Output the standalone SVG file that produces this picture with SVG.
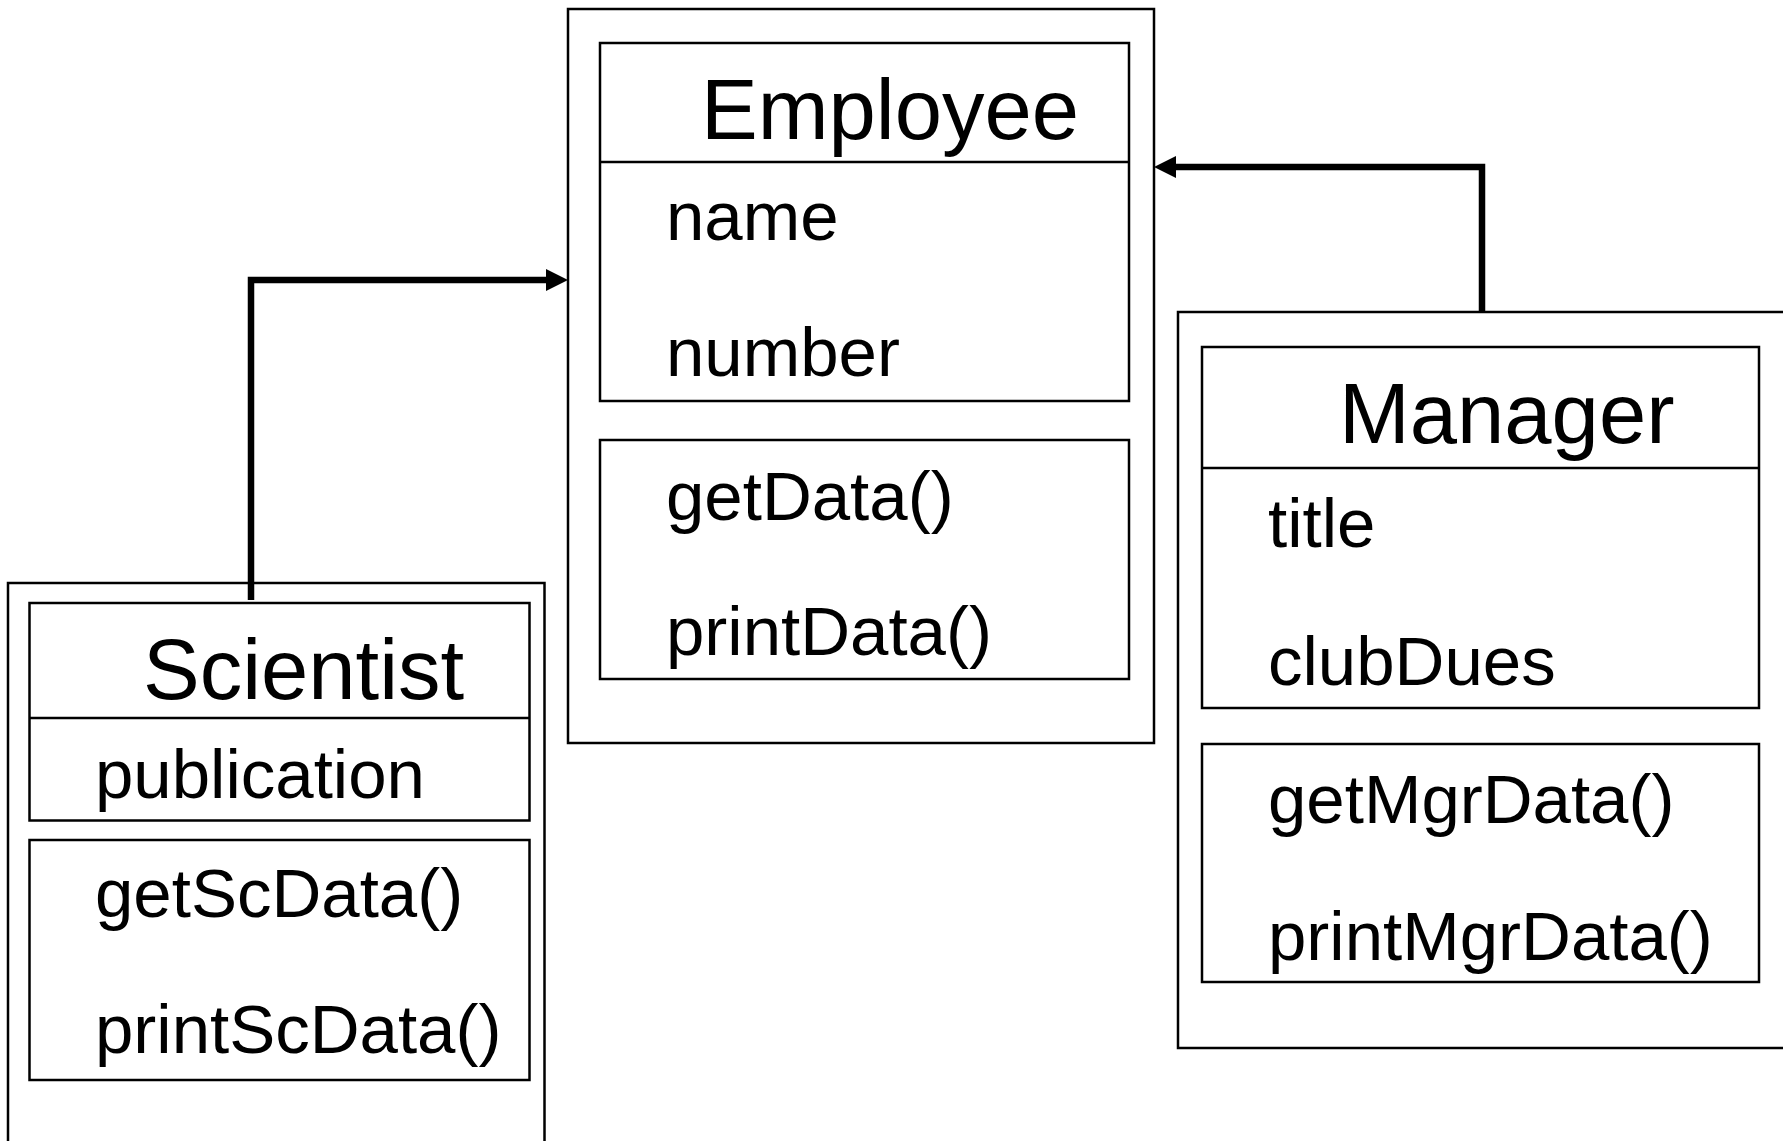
<svg xmlns="http://www.w3.org/2000/svg" width="1783" height="1141" viewBox="0 0 1783 1141">
  <style>
    .frame { fill: none; stroke: #000; stroke-width: 2.5; }
    .title { font-family: "Liberation Sans", Arial, sans-serif; font-size: 85px; fill: #000; }
    .member { font-family: "Liberation Sans", Arial, sans-serif; font-size: 69px; fill: #000; }
    .link { fill: none; stroke: #000; stroke-width: 6.5; }
  </style>
  <defs>
    <marker id="head" viewBox="0 0 22 22" refX="0" refY="11" markerWidth="22" markerHeight="22" markerUnits="userSpaceOnUse" orient="auto">
      <path d="M0,0 L22,11 L0,22 z" fill="#000"/>
    </marker>
  </defs>
  <rect width="1783" height="1141" fill="#fff"/>

  <!-- Employee class -->
  <g id="employee">
    <rect class="frame" x="568" y="9" width="586" height="734"/>
    <rect class="frame" x="600" y="43" width="529" height="358"/>
    <line class="frame" x1="600" y1="162" x2="1129" y2="162"/>
    <rect class="frame" x="600" y="440" width="529" height="239"/>
    <text class="title" x="701" y="139">Employee</text>
    <text class="member" x="666" y="240">name</text>
    <text class="member" x="666" y="376">number</text>
    <text class="member" x="666" y="520">getData()</text>
    <text class="member" x="666" y="655">printData()</text>
  </g>

  <!-- Scientist class -->
  <g id="scientist">
    <path class="frame" d="M8,1145 V583 H544.5 V1145"/>
    <rect class="frame" x="29.5" y="603" width="500" height="217.5"/>
    <line class="frame" x1="29.5" y1="718" x2="529.5" y2="718"/>
    <rect class="frame" x="29.5" y="840" width="500" height="240"/>
    <text class="title" x="143" y="699">Scientist</text>
    <text class="member" x="95" y="798">publication</text>
    <text class="member" x="95" y="917">getScData()</text>
    <text class="member" x="95" y="1053">printScData()</text>
  </g>

  <!-- Manager class -->
  <g id="manager">
    <path class="frame" d="M1790,312 H1178 V1048 H1790"/>
    <rect class="frame" x="1202" y="347" width="557" height="361"/>
    <line class="frame" x1="1202" y1="468" x2="1759" y2="468"/>
    <rect class="frame" x="1202" y="744" width="557" height="238"/>
    <text class="title" x="1339" y="443">Manager</text>
    <text class="member" x="1268" y="547">title</text>
    <text class="member" x="1268" y="685">clubDues</text>
    <text class="member" x="1268" y="823">getMgrData()</text>
    <text class="member" x="1268" y="960">printMgrData()</text>
  </g>

  <!-- Inheritance connectors -->
  <g id="connectors">
    <path class="link" d="M251,600 V280 H546" marker-end="url(#head)"/>
    <path class="link" d="M1482,312 V167 H1176" marker-end="url(#head)"/>
  </g>
</svg>
